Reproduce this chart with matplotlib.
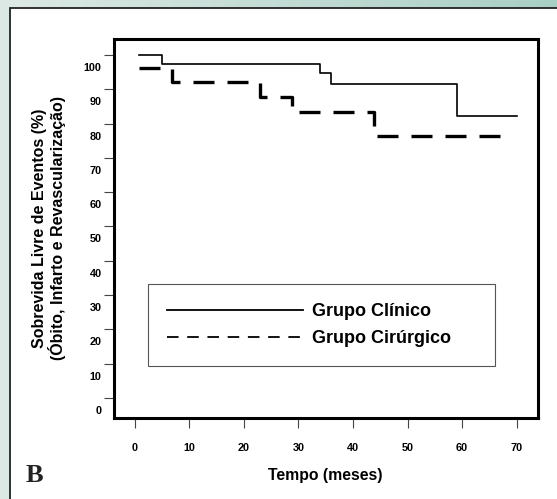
"""Event-free survival curves (clinical vs. surgical group), panel B."""

import matplotlib.pyplot as plt
import numpy as np
from matplotlib.lines import Line2D
from matplotlib.patches import Rectangle

plt.rcParams["font.family"] = ["Liberation Sans", "DejaVu Sans"]

# step curves (months, % event-free)
CLINICO_MESES = [0.8, 4.9, 33.9, 35.9, 59.0, 70.1]
CLINICO_SOBREVIDA = [100.0, 97.5, 94.7, 91.5, 82.2, 82.2]
CIRURGICO_MESES = [0.8, 6.9, 22.9, 28.9, 43.9, 67.5]
CIRURGICO_SOBREVIDA = [96.1, 92.0, 87.8, 83.3, 76.3, 76.3]

X_TICKS = [0, 10, 20, 30, 40, 50, 60, 70]
Y_TICKS = [0, 10, 20, 30, 40, 50, 60, 70, 80, 90, 100]

LEGEND_LABELS = ["Grupo Clínico", "Grupo Cirúrgico"]
Y_LABEL = "Sobrevida Livre de Eventos (%)\n(Óbito, Infarto e Revascularização)"
X_LABEL = "Tempo (meses)"

W, H = 557, 499


def draw_background(fig):
    bg = fig.add_axes([0, 0, 1, 1], zorder=-10)
    left = np.array([0.866, 0.913, 0.898])
    right = np.array([0.663, 0.812, 0.769])
    ramp = np.linspace(0, 1, 256)[None, :, None]
    bg.imshow(left + (right - left) * ramp, aspect="auto", extent=[0, 1, 0, 1])
    bg.set_axis_off()
    fig.patches.append(
        Rectangle((10 / W, -0.05), 1.1, (H - 8) / H + 0.05, transform=fig.transFigure,
                  facecolor="white", edgecolor="#222222", linewidth=1.3, zorder=-5)
    )


def main():
    fig = plt.figure(figsize=(W / 100, H / 100), dpi=100)
    draw_background(fig)

    ax = fig.add_axes([113.5 / W, 81.5 / H, 424.5 / W, 379 / H])
    ax.set_facecolor("none")

    ax.step(CLINICO_MESES, CLINICO_SOBREVIDA, where="post", color="black", linewidth=1.2)
    ax.step(CIRURGICO_MESES, CIRURGICO_SOBREVIDA, where="post", color="black",
            linewidth=2.4, dashes=(6.3, 3.9))

    ax.set_xlim(-3.9, 73.9)
    ax.set_ylim(-5.7, 104.8)

    ax.set_xticks(X_TICKS, labels=[str(v) for v in X_TICKS])
    ax.set_yticks(Y_TICKS, labels=[""] * len(Y_TICKS))
    # the printed labels sit a little below their tick marks
    ax.set_yticks([v - 3.5 for v in Y_TICKS], labels=[str(v) for v in Y_TICKS], minor=True)

    ax.tick_params(axis="both", which="major", direction="out", length=7.2, width=0.8, color="#444444")
    ax.tick_params(axis="x", labelsize=7.8, pad=11)
    ax.tick_params(axis="y", which="minor", length=0, pad=8.6, labelsize=7.8)
    for label in ax.get_xticklabels() + ax.get_yticklabels(minor=True):
        label.set_fontweight("bold")

    for spine in ax.spines.values():
        spine.set_linewidth(2.2)

    ax.set_xlabel(X_LABEL, fontsize=11.3, fontweight="bold", va="center")
    ax.xaxis.set_label_coords(0.5, -0.152)
    fig.text(49 / W, (H - 228) / H, Y_LABEL, rotation=90, ha="center", va="center",
             multialignment="center", fontsize=11.5, fontweight="bold", linespacing=1.05)

    handles = [
        Line2D([], [], color="black", linewidth=1.3),
        Line2D([], [], color="black", linewidth=1.3, dashes=(6.4, 4.8)),
    ]
    leg = ax.legend(handles, LEGEND_LABELS, loc="upper left",
                    bbox_to_anchor=(0.082, 0.134, 0.817, 0.217), mode="expand",
                    prop={"size": 13, "weight": "bold"}, handlelength=7.5,
                    handletextpad=0.5, borderpad=1.05, labelspacing=0.55,
                    fancybox=False, framealpha=1, borderaxespad=0)
    leg.get_frame().set_edgecolor("#555555")
    leg.get_frame().set_linewidth(0.8)

    fig.text(34 / W, (H - 475) / H, "B", ha="center", va="center", fontsize=19,
             fontweight="bold", family="Liberation Serif", color="#222222")

    fig.savefig("out.png", dpi=100)
    plt.close(fig)


if __name__ == "__main__":
    main()
